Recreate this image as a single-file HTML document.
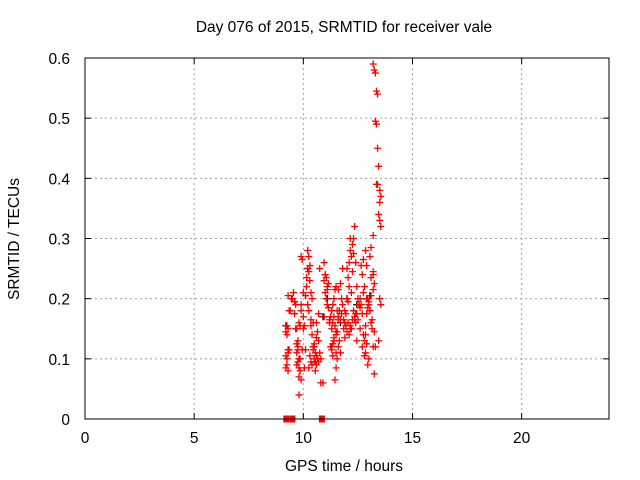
<!DOCTYPE html>
<html><head><meta charset="utf-8"><style>
body{margin:0;background:#fff;}
svg{display:block;font-family:"Liberation Sans",sans-serif;}
</style></head><body>
<svg id="chart" width="640" height="480">
<text x="344" y="32" font-size="15.5" text-anchor="middle" fill="#000">Day 076 of 2015, SRMTID for receiver vale</text>
<text x="344" y="471" font-size="15.5" text-anchor="middle" fill="#000">GPS time / hours</text>
<text transform="translate(19,239) rotate(-90)" font-size="15.5" text-anchor="middle" fill="#000">SRMTID / TECUs</text>
<g id="grid"></g>
<g id="ticks"></g>
<g id="black"></g>
<g id="red"></g>
<rect x="85" y="58" width="524" height="361" fill="none" stroke="#000" stroke-width="1"/>
</svg>
<script>
const xTicks=[0,5,10,15,20];
const yTicks=[0,0.1,0.2,0.3,0.4,0.5,0.6];
const yTickLabels=["0","0.1","0.2","0.3","0.4","0.5","0.6"];
const redHours=[9.2,9.25,9.3,9.2,9.25,9.3,9.2,9.3,9.35,9.25,9.3,9.2,9.35,9.4,9.5,9.45,9.55,9.6,9.65,9.7,9.75,9.6,9.7,9.8,9.75,9.7,9.8,9.85,9.8,9.75,9.7,9.65,9.9,9.85,9.8,9.95,10.0,10.0,10.05,9.9,10.0,10.1,10.15,10.2,10.25,10.2,10.3,10.25,10.15,10.1,10.2,10.35,10.4,10.3,10.25,10.45,10.35,10.4,10.5,10.55,10.45,10.5,10.6,10.65,10.7,10.6,10.55,10.75,10.7,10.65,10.8,10.6,10.5,10.45,10.9,10.95,11.0,11.05,11.1,11.0,10.95,11.05,11.1,11.15,11.2,11.25,11.3,11.2,11.3,11.35,11.4,11.45,11.5,11.35,11.4,11.5,11.55,11.45,11.5,11.6,11.65,11.7,11.55,11.75,11.8,11.6,11.7,11.65,11.85,11.9,11.95,12.0,12.05,11.9,12.0,12.1,12.15,12.2,12.25,12.05,12.1,12.2,12.3,12.25,12.35,12.15,12.3,12.4,12.45,12.5,12.55,12.6,12.4,12.5,12.65,12.7,12.75,12.8,12.6,12.7,12.8,12.85,12.9,12.95,13.0,12.85,12.9,12.95,13.0,13.05,12.75,12.8,13.1,13.15,13.2,13.2,13.25,13.2,13.25,13.3,13.2,13.25,13.3,13.35,13.4,13.3,13.35,13.4,13.45,13.4,13.35,13.5,13.55,13.5,13.45,13.55,13.5,13.2,13.1,13.05,12.9,13.1,13.25,13.2,13.15,12.85,11.5,11.3,11.8,12.0,12.2,12.45,10.8,10.35,9.9,
9.25,9.3,9.8,9.85,9.9,9.75,9.95,10.05,10.1,10.3,10.35,10.4,10.25,10.5,10.55,10.6,10.7,10.75,10.95,11.0,11.1,11.15,11.2,11.25,11.3,11.35,11.4,11.45,11.5,11.55,11.6,11.7,11.75,11.85,11.9,11.95,12.0,12.05,12.1,12.15,12.25,12.3,12.35,12.4,12.45,12.55,12.6,12.65,12.7,12.75,12.85,12.9,12.95,13.0,13.05,13.1,13.5,13.55,13.45,11.4,11.6,11.35,11.65,12.15,12.35];
const redValues=[0.155,0.14,0.115,0.105,0.1,0.11,0.085,0.08,0.115,0.09,0.205,0.145,0.18,0.18,0.2,0.2,0.21,0.195,0.19,0.15,0.12,0.175,0.11,0.1,0.095,0.09,0.085,0.08,0.07,0.13,0.125,0.15,0.065,0.1,0.04,0.115,0.15,0.17,0.155,0.19,0.21,0.205,0.235,0.25,0.27,0.28,0.255,0.245,0.22,0.205,0.19,0.21,0.2,0.23,0.18,0.16,0.155,0.14,0.125,0.11,0.12,0.1,0.105,0.1,0.095,0.09,0.08,0.11,0.13,0.145,0.1,0.135,0.095,0.115,0.06,0.17,0.24,0.235,0.22,0.21,0.23,0.2,0.19,0.185,0.165,0.17,0.18,0.16,0.15,0.16,0.17,0.155,0.14,0.125,0.13,0.11,0.1,0.065,0.085,0.12,0.13,0.11,0.145,0.2,0.19,0.215,0.225,0.18,0.165,0.16,0.175,0.2,0.195,0.18,0.25,0.26,0.28,0.27,0.245,0.235,0.22,0.21,0.3,0.29,0.32,0.3,0.275,0.26,0.22,0.2,0.19,0.185,0.175,0.165,0.19,0.175,0.14,0.13,0.15,0.12,0.105,0.11,0.125,0.09,0.1,0.14,0.175,0.2,0.19,0.18,0.21,0.22,0.205,0.15,0.24,0.245,0.145,0.12,0.075,0.12,0.59,0.58,0.575,0.545,0.54,0.495,0.49,0.45,0.42,0.39,0.39,0.38,0.37,0.36,0.34,0.32,0.33,0.305,0.285,0.27,0.255,0.235,0.225,0.215,0.165,0.155,0.145,0.12,0.25,0.2,0.15,0.13,0.06,0.165,0.18,0.155,0.15,0.16,0.155,0.27,0.115,0.265,0.085,
0.115,0.105,0.095,0.09,0.085,0.12,0.095,0.16,0.175,0.25,0.26,0.24,0.215,0.225,0.16,0.12,0.115,0.105,0.2,0.215,0.22,0.18,0.17,0.165,0.175,0.15,0.135,0.155,0.145,0.16,0.14,0.15,0.165,0.18,0.17,0.16,0.175,0.19,0.2,0.255,0.24,0.265,0.28,0.2,0.185,0.195,0.18,0.16,0.2,0.19,0.13,0.135,0.165,0.19,0.18,0.155,0.165,0.15,0.165,0.12,0.13,0.145,0.11,0.24,0.23];
const zeroHours=[9.22,9.5,10.85];
const zeroValues=[0,0,0];
const blackHours=[9.2,9.6,10.2,11.1,12.0,12.45,12.9,13.05,11.7,10.9];
const blackValues=[0.155,0.195,0.25,0.2,0.2,0.19,0.2,0.205,0.16,0.17];

const NS="http://www.w3.org/2000/svg";
const X0=85,X1=609,Y0=419,Y1=58;
function sx(h){return X0+(h/24)*(X1-X0);}
function sy(v){return Y0-(v/0.6)*(Y0-Y1);}
function mk(tag,attrs,parent){const e=document.createElementNS(NS,tag);for(const k in attrs)e.setAttribute(k,attrs[k]);parent.appendChild(e);return e;}
const grid=document.getElementById('grid'),ticks=document.getElementById('ticks');
xTicks.forEach(t=>{
  const x=sx(t);
  if(t>0){const g=mk('line',{x1:x,x2:x,y1:Y1,y2:Y0,stroke:'#a0a0a0','stroke-dasharray':'2,3'},grid);
  
  }
  mk('line',{x1:x,x2:x,y1:Y0,y2:Y0-6,stroke:'#000'},ticks);
  mk('line',{x1:x,x2:x,y1:Y1,y2:Y1+6,stroke:'#000'},ticks);
  const l=mk('text',{x:x,y:Y0+24,'font-size':15.5,'text-anchor':'middle',fill:'#000'},ticks);
  l.textContent=String(t);
  
  
});
yTicks.forEach((t,i)=>{
  const y=sy(t);
  if(t>0&&t<0.6){const g=mk('line',{x1:X0,x2:X1,y1:y,y2:y,stroke:'#a0a0a0','stroke-dasharray':'2,3'},grid);
  
  }
  mk('line',{x1:X0,x2:X0+6,y1:y,y2:y,stroke:'#000'},ticks);
  mk('line',{x1:X1,x2:X1-6,y1:y,y2:y,stroke:'#000'},ticks);
  const l=mk('text',{x:X0-15,y:y+6,'font-size':15.5,'text-anchor':'end',fill:'#000'},ticks);
  l.textContent=yTickLabels[i];
  
  
});
function cross(h,v,color,parent,name){
  const x=sx(h),y=sy(v);
  const p=mk('path',{d:`M${x-3.5},${y}H${x+3.5}M${x},${y-3.5}V${y+3.5}`,stroke:color,'stroke-width':1.3,fill:'none'},parent);
  
  
}
const blk=document.getElementById('black'),red=document.getElementById('red');
blackHours.forEach((h,i)=>cross(h,blackValues[i],'#000',blk,'black-point'));
redHours.forEach((h,i)=>cross(h,redValues[i],'#ff0000',red,'red-point'));
zeroHours.forEach((h,i)=>{
  const r=mk('rect',{x:sx(zeroHours[i])-3,y:sy(zeroValues[i])-3.5,width:6,height:7,fill:'#ff0000'},red);
  
  
});
</script>
</body></html>
